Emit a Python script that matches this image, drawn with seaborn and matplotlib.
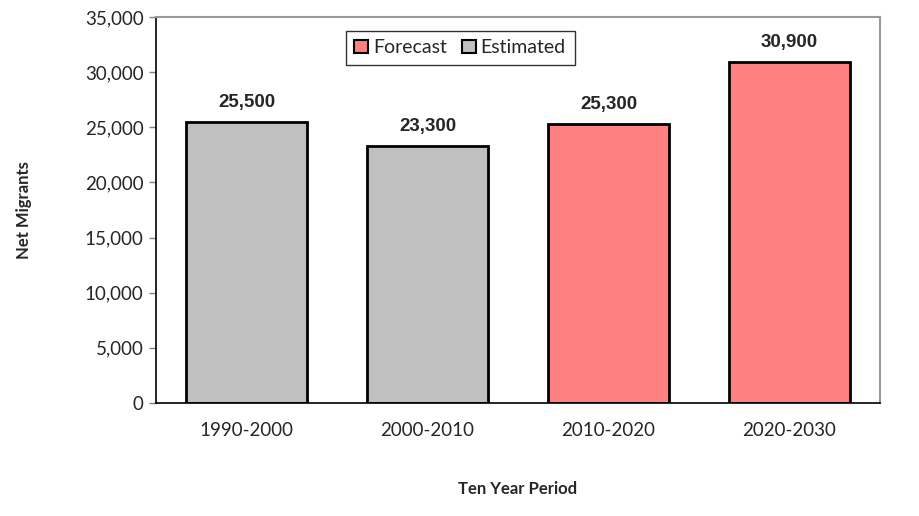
# Net migrants by ten year period, estimated vs forecast

import pandas as pd
import matplotlib.pyplot as plt
import seaborn as sns
from matplotlib.patches import Patch

periods = ["1990-2000", "2000-2010", "2010-2020", "2020-2030"]
migrants = [25500, 23300, 25300, 30900]
kind = ["Estimated", "Estimated", "Forecast", "Forecast"]

colors = {"Forecast": "#FF8080", "Estimated": "#C0C0C0"}


def plot_migrants(output_path):
    df = pd.DataFrame({"Period": periods, "Net Migrants": migrants, "Kind": kind})

    sns.set_theme(style="white")
    plt.rcParams["font.family"] = ["Lato", "DejaVu Sans"]

    fig = plt.figure(figsize=(9.2, 5.16), dpi=100)
    ax = fig.add_axes([0.1696, 0.219, 0.7869, 0.748])

    sns.barplot(data=df, x="Period", y="Net Migrants", hue="Kind",
                palette=colors, dodge=False, width=0.67, saturation=1,
                edgecolor="black", linewidth=2, legend=False, ax=ax)

    # value labels
    for i, v in enumerate(migrants):
        ax.text(i, v + 1000, f"{v:,}", ha="center", va="bottom",
                fontsize=13.5, fontweight="bold", family="Liberation Sans")

    ax.set_xlim(-0.5, 3.5)
    ax.set_ylim(0, 35000)
    ax.set_yticks(range(0, 35001, 5000))
    ax.set_yticklabels([f"{t:,}" for t in range(0, 35001, 5000)], fontsize=13.5)
    ax.set_xticks(range(4))
    ax.set_xticklabels(periods, fontsize=13.5)
    ax.set_xticks([-0.5, 0.5, 1.5, 2.5, 3.5], minor=True)
    ax.tick_params(axis="x", which="major", length=0, pad=14)
    ax.tick_params(axis="x", which="minor", length=5, width=1, color="#808080", direction="out")
    ax.tick_params(axis="y", length=5, width=1, color="#808080", direction="out", left=True, pad=4)

    ax.spines["left"].set_color("black")
    ax.spines["bottom"].set_color("black")
    ax.spines["left"].set_linewidth(1.2)
    ax.spines["bottom"].set_linewidth(1.2)
    ax.spines["top"].set_color("#999999")
    ax.spines["right"].set_color("#999999")
    ax.spines["top"].set_linewidth(1.5)
    ax.spines["right"].set_linewidth(1.5)

    ax.set_xlabel("Ten Year Period", fontsize=12, fontweight="bold", labelpad=30)
    ax.set_ylabel("Net Migrants", fontsize=12, fontweight="bold", labelpad=38)

    handles = [Patch(facecolor=colors[k], edgecolor="black", linewidth=1.5) for k in ["Forecast", "Estimated"]]
    leg = ax.legend(handles, ["Forecast", "Estimated"], loc="upper center",
                    bbox_to_anchor=(0.42, 0.99), ncol=2, fontsize=14,
                    frameon=True, fancybox=False, edgecolor="black",
                    handlelength=0.7, handleheight=0.7, handletextpad=0.25,
                    columnspacing=0.8, borderpad=0.45)
    leg.get_frame().set_linewidth(1)

    plt.savefig(output_path)
    plt.close()


if __name__ == "__main__":
    plot_migrants("out.png")
